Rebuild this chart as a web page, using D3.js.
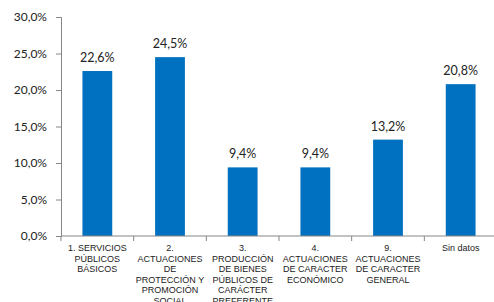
<!DOCTYPE html>
<html>
<head>
<meta charset="utf-8">
<script src="https://cdn.jsdelivr.net/npm/d3@7"></script>
<style>
  body { margin: 0; background: #fff; overflow: hidden; }
  svg { display: block; }
</style>
</head>
<body>
<div id="chart"></div>
<script>
// categories, each label split in its lines
var categories = ["c1", "c2", "c3", "c4", "c9", "sd"];
var categoryLines = [
  ["1. SERVICIOS", "PÚBLICOS", "BÁSICOS"],
  ["2.", "ACTUACIONES", "DE", "PROTECCIÓN Y", "PROMOCIÓN", "SOCIAL"],
  ["3.", "PRODUCCIÓN", "DE BIENES", "PÚBLICOS DE", "CARÁCTER", "PREFERENTE"],
  ["4.", "ACTUACIONES", "DE CARACTER", "ECONÓMICO"],
  ["9.", "ACTUACIONES", "DE CARACTER", "GENERAL"],
  ["Sin datos"]
];
var values = [22.6, 24.5, 9.4, 9.4, 13.2, 20.8];
var yTicks = [0, 5, 10, 15, 20, 25, 30];

var width = 494, height = 302;
var margin = {top: 17, left: 61, bottom: 66};
var plotRight = 497;

var fmt = function(d) { return d.toFixed(1).replace(".", ",") + "%"; };

var svg = d3.select("#chart").append("svg")
    .attr("width", width)
    .attr("height", height);

var x = d3.scaleBand().domain(categories).range([margin.left, plotRight]).paddingInner(0.59).paddingOuter(0.295),
    xTicks = d3.scaleBand().domain(categories).range([margin.left, plotRight]),
    y = d3.scaleLinear().domain([0, 30]).range([height - margin.bottom, margin.top]);

// y axis
var yAxis = svg.append("g")
    .attr("transform", "translate(" + margin.left + ",0)")
    .call(d3.axisLeft(y).tickValues(yTicks).tickSize(5).tickPadding(9).tickFormat(fmt));
yAxis.select(".domain").attr("stroke", "#868686");
yAxis.selectAll(".tick line").attr("stroke", "#868686");
yAxis.selectAll("text")
    .attr("font-family", "Lato, 'Open Sans', sans-serif")
    .attr("font-size", "12px")
    .attr("fill", "#222");

// bars
svg.selectAll(".bar")
    .data(values)
  .enter().append("rect")
    .attr("class", "bar")
    .attr("x", function(d, i) { return x(categories[i]); })
    .attr("y", function(d) { return y(d); })
    .attr("width", x.bandwidth())
    .attr("height", function(d) { return y(0) - y(d); })
    .attr("fill", "#0070C0");

// value labels
svg.selectAll(".val")
    .data(values)
  .enter().append("text")
    .attr("class", "val")
    .attr("x", function(d, i) { return x(categories[i]) + x.bandwidth() / 2; })
    .attr("y", function(d) { return y(d) - 9; })
    .attr("text-anchor", "middle")
    .attr("font-family", "Lato, 'Open Sans', sans-serif")
    .attr("font-size", "12.5px")
    .attr("fill", "#222")
    .text(fmt);

// x axis line + ticks between categories
var base = y(0);
svg.append("line")
    .attr("x1", margin.left).attr("x2", plotRight)
    .attr("y1", base).attr("y2", base)
    .attr("stroke", "#868686");
svg.selectAll(".xtick")
    .data(categories.concat(["end"]))
  .enter().append("line")
    .attr("x1", function(d, i) { return margin.left + i * xTicks.bandwidth(); })
    .attr("x2", function(d, i) { return margin.left + i * xTicks.bandwidth(); })
    .attr("y1", base).attr("y2", base + 5)
    .attr("stroke", "#868686");

// category labels
var lab = svg.selectAll(".cat")
    .data(categoryLines)
  .enter().append("text")
    .attr("class", "cat")
    .attr("text-anchor", "middle")
    .attr("font-family", "'Liberation Sans', Arial, sans-serif")
    .attr("font-size", "9px")
    .attr("fill", "#222");
lab.each(function(lines, i) {
  var cx = xTicks(categories[i]) + xTicks.bandwidth() / 2;
  d3.select(this).selectAll("tspan")
      .data(lines)
    .enter().append("tspan")
      .attr("x", cx)
      .attr("y", function(d, j) { return base + 15 + j * 10.6; })
      .text(function(d) { return d; });
});
</script>
</body>
</html>
